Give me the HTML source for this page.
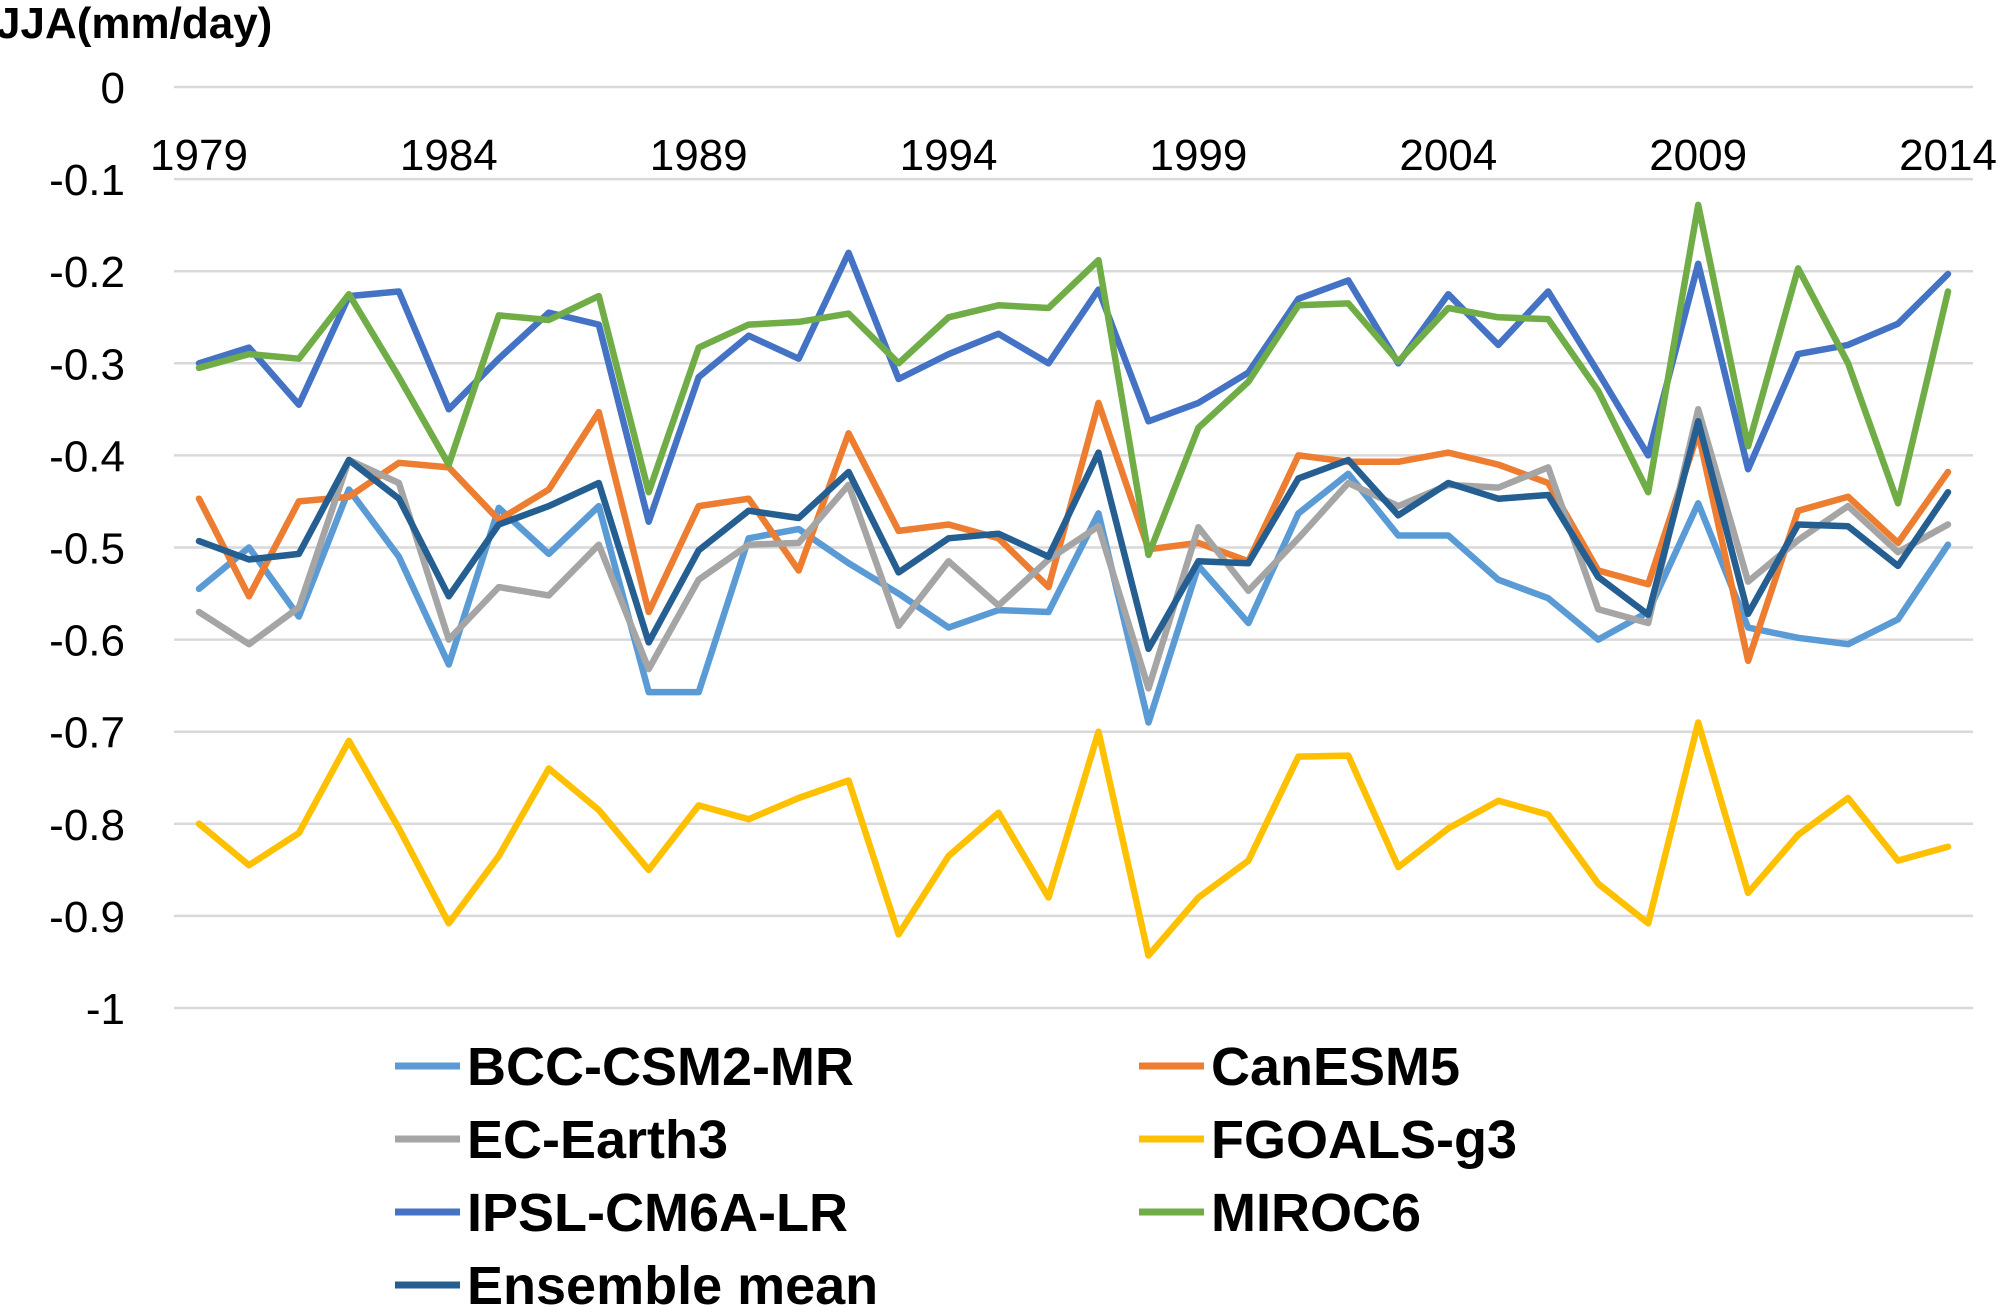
<!DOCTYPE html>
<html><head><meta charset="utf-8">
<style>
html,body{margin:0;padding:0;background:#fff;}
svg{display:block;font-family:"Liberation Sans",sans-serif;}
</style></head>
<body>
<svg id="chart" width="2000" height="1307" viewBox="0 0 2000 1307">
<text x="-4" y="38" font-size="44" font-weight="bold">JJA(mm/day)</text>
<g id="grid"></g><g id="ylabels"></g><g id="xlabels"></g><g id="series"></g><g id="legend"></g>
</svg>
<script>
const years = [];
for (let y = 1979; y <= 2014; y++) years.push(y);
const yTicks = [0,-0.1,-0.2,-0.3,-0.4,-0.5,-0.6,-0.7,-0.8,-0.9,-1];
const yTickLabels = ["0","-0.1","-0.2","-0.3","-0.4","-0.5","-0.6","-0.7","-0.8","-0.9","-1"];
const xTickLabels = ["1979","1984","1989","1994","1999","2004","2009","2014"];
const seriesNames = ["BCC-CSM2-MR","CanESM5","EC-Earth3","FGOALS-g3","IPSL-CM6A-LR","MIROC6","Ensemble mean"];
const seriesColors = ["#5B9BD5","#ED7D31","#A5A5A5","#FFC000","#4472C4","#70AD47","#255E91"];
const bcc = [-0.545,-0.50,-0.575,-0.437,-0.51,-0.627,-0.457,-0.507,-0.455,-0.657,-0.657,-0.49,-0.48,-0.517,-0.55,-0.587,-0.568,-0.57,-0.463,-0.69,-0.52,-0.582,-0.463,-0.42,-0.487,-0.487,-0.535,-0.555,-0.60,-0.57,-0.452,-0.587,-0.598,-0.605,-0.578,-0.497];
const canesm = [-0.447,-0.553,-0.45,-0.445,-0.408,-0.413,-0.47,-0.437,-0.353,-0.57,-0.455,-0.447,-0.525,-0.376,-0.482,-0.475,-0.49,-0.543,-0.343,-0.502,-0.495,-0.515,-0.40,-0.407,-0.407,-0.397,-0.41,-0.43,-0.525,-0.54,-0.375,-0.623,-0.46,-0.445,-0.495,-0.418];
const ecearth = [-0.57,-0.605,-0.565,-0.405,-0.43,-0.60,-0.543,-0.552,-0.497,-0.632,-0.535,-0.497,-0.495,-0.432,-0.585,-0.515,-0.563,-0.513,-0.477,-0.653,-0.478,-0.547,-0.49,-0.43,-0.455,-0.432,-0.435,-0.413,-0.567,-0.582,-0.35,-0.537,-0.492,-0.455,-0.505,-0.475];
const fgoals = [-0.80,-0.845,-0.81,-0.71,-0.805,-0.908,-0.835,-0.74,-0.785,-0.85,-0.78,-0.795,-0.772,-0.753,-0.92,-0.835,-0.788,-0.88,-0.70,-0.943,-0.88,-0.84,-0.727,-0.726,-0.847,-0.805,-0.775,-0.79,-0.865,-0.908,-0.69,-0.875,-0.812,-0.772,-0.84,-0.825];
const ipsl = [-0.30,-0.283,-0.345,-0.227,-0.222,-0.35,-0.295,-0.245,-0.258,-0.472,-0.315,-0.27,-0.295,-0.18,-0.317,-0.29,-0.268,-0.30,-0.22,-0.363,-0.343,-0.31,-0.23,-0.21,-0.30,-0.225,-0.28,-0.222,-0.31,-0.40,-0.192,-0.415,-0.29,-0.28,-0.257,-0.203];
const miroc = [-0.305,-0.29,-0.295,-0.225,-0.315,-0.41,-0.248,-0.253,-0.227,-0.44,-0.283,-0.258,-0.255,-0.246,-0.30,-0.25,-0.237,-0.24,-0.188,-0.508,-0.37,-0.32,-0.237,-0.235,-0.298,-0.24,-0.25,-0.252,-0.33,-0.44,-0.128,-0.39,-0.197,-0.30,-0.452,-0.222];
const ensemble = [-0.493,-0.513,-0.507,-0.405,-0.447,-0.553,-0.475,-0.455,-0.43,-0.603,-0.503,-0.46,-0.468,-0.418,-0.527,-0.49,-0.485,-0.51,-0.397,-0.61,-0.515,-0.517,-0.425,-0.405,-0.465,-0.43,-0.447,-0.443,-0.532,-0.573,-0.363,-0.572,-0.475,-0.477,-0.52,-0.44];
const seriesValues = [bcc, canesm, ecearth, fgoals, ipsl, miroc, ensemble];

const NS = "http://www.w3.org/2000/svg";
const plotL = 174, plotR = 1973, y0px = 87, y1px = 1008;
const band = (plotR - plotL) / years.length;
function xScale(i){ return plotL + band * (i + 0.5); }
function yScale(v){ return y0px + (0 - v) / 1 * (y1px - y0px); }
function mk(tag, attrs, parent){ const e = document.createElementNS(NS, tag); for (const k in attrs) e.setAttribute(k, attrs[k]); parent.appendChild(e); return e; }

const grid = document.getElementById('grid');
const yl = document.getElementById('ylabels');
yTicks.forEach((t, i) => {
  const g = mk('line', {x1: plotL, x2: plotR, y1: yScale(t), y2: yScale(t), stroke: '#d9d9d9', 'stroke-width': 2.5}, grid);
  
  
  const tx = mk('text', {x: 125, y: yScale(t) + 16, 'text-anchor': 'end', 'font-size': 44}, yl);
  tx.textContent = yTickLabels[i];
  
  
});
const xl = document.getElementById('xlabels');
xTickLabels.forEach(lbl => {
  const i = years.indexOf(parseInt(lbl));
  const tx = mk('text', {x: xScale(i), y: 170, 'text-anchor': 'middle', 'font-size': 44}, xl);
  tx.textContent = lbl;
  
  
});
const sg = document.getElementById('series');
seriesValues.forEach((vals, s) => {
  const pts = vals.map((v, i) => xScale(i).toFixed(1) + ',' + yScale(v).toFixed(1)).join(' ');
  const pl = mk('polyline', {points: pts, fill: 'none', stroke: seriesColors[s], 'stroke-width': 6.5, 'stroke-linejoin': 'round', 'stroke-linecap': 'round'}, sg);
  
  
});
const lg = document.getElementById('legend');
seriesNames.forEach((n, s) => {
  const col = s % 2, row = Math.floor(s / 2);
  const lx = col ? 1139 : 395, ly = 1066 + row * 73;
  const g = mk('g', {}, lg);
  
  
  mk('line', {x1: lx, x2: lx + 65, y1: ly, y2: ly, stroke: seriesColors[s], 'stroke-width': 7}, g);
  const t = mk('text', {x: lx + 72, y: ly + 19, 'font-size': 54, 'font-weight': 'bold'}, g);
  t.textContent = n;
});
</script>
</body></html>
